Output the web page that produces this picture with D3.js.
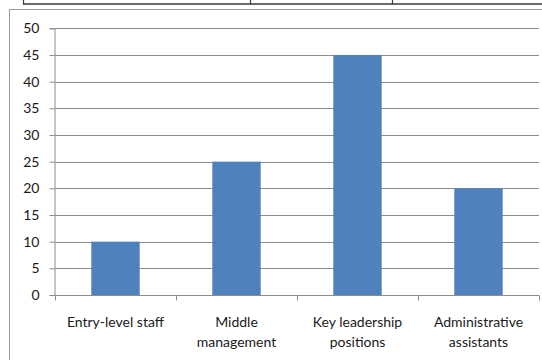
<!DOCTYPE html>
<html>
<head>
<meta charset="utf-8">
<script src="https://cdn.jsdelivr.net/npm/d3@7"></script>
<style>
  html, body { margin: 0; padding: 0; background: #fff; }
  svg { display: block; }
  text { font-family: Lato, "Open Sans", sans-serif; fill: #1a1a1a; }
</style>
</head>
<body>
<svg id="chart" width="542" height="360"></svg>
<script>
// Staff groups and their values
const categories = [
  ["Entry-level staff"],
  ["Middle", "management"],
  ["Key leadership", "positions"],
  ["Administrative", "assistants"]
];
const values = [10, 25, 45, 20];
const yTicks = [0, 5, 10, 15, 20, 25, 30, 35, 40, 45, 50];

const svg = d3.select("#chart");
const W = 542, H = 360;
const plot = { left: 55, right: 539, top: 28.3, bottom: 295 };

// Table border sitting above the chart
const table = svg.append("g").attr("stroke", "#3a3a3a");
table.append("line").attr("x1", 23).attr("x2", W).attr("y1", 4).attr("y2", 4).attr("stroke-width", 1.6);
[23.5, 250.5, 392.5].forEach(x =>
  table.append("line").attr("x1", x).attr("x2", x).attr("y1", 0).attr("y2", 4.5).attr("stroke-width", 1.2));

// Chart frame (runs off the right and bottom edges)
svg.append("rect")
  .attr("x", 9.5).attr("y", 9.5)
  .attr("width", W + 20).attr("height", H + 20)
  .attr("fill", "none").attr("stroke", "#9a9a9a").attr("stroke-width", 1);

const x = d3.scaleBand()
  .domain(categories.map((d, i) => i))
  .range([plot.left, plot.right])
  .paddingInner(0).paddingOuter(0);

const y = d3.scaleLinear().domain([0, 50]).range([plot.bottom, plot.top]);

// Horizontal gridlines
svg.append("g")
  .selectAll("line")
  .data(yTicks.filter(t => t > 0))
  .join("line")
  .attr("x1", plot.left).attr("x2", plot.right)
  .attr("y1", d => Math.round(y(d)) + 0.5).attr("y2", d => Math.round(y(d)) + 0.5)
  .attr("stroke", "#8c8c8c").attr("stroke-width", 1);

// Bars
const barW = x.bandwidth() * 0.4;
svg.append("g")
  .selectAll("rect")
  .data(values)
  .join("rect")
  .attr("x", (d, i) => x(i) + (x.bandwidth() - barW) / 2)
  .attr("y", d => y(d))
  .attr("width", barW)
  .attr("height", d => y(0) - y(d))
  .attr("fill", "#4f81bd");

// Y axis
const yAxis = svg.append("g")
  .attr("transform", `translate(${plot.left - 0.5},0)`)
  .call(d3.axisLeft(y).tickValues(yTicks).tickSize(5).tickPadding(10).tickFormat(d3.format("d")));
yAxis.selectAll("path, line").attr("stroke", "#8c8c8c");
yAxis.selectAll("text").attr("font-size", 14).attr("font-family", "Lato, sans-serif").attr("fill", "#1a1a1a");

// X axis
const xAxis = svg.append("g")
  .attr("transform", `translate(0,${Math.round(plot.bottom) + 0.5})`)
  .call(d3.axisBottom(x).tickSize(0).tickFormat(""));
xAxis.select("path").attr("stroke", "#8c8c8c").attr("d", `M${plot.left},0H${plot.right}`);

// Category tick marks at band edges
const edges = categories.map((d, i) => x(i)).concat([x(categories.length - 1) + x.bandwidth()]);
xAxis.selectAll("line.edge")
  .data(edges)
  .join("line")
  .attr("class", "edge")
  .attr("x1", d => Math.round(d) + 0.5).attr("x2", d => Math.round(d) + 0.5)
  .attr("y1", 0).attr("y2", 5)
  .attr("stroke", "#8c8c8c");

// Category labels
const labels = svg.append("g").attr("text-anchor", "middle").attr("font-size", 14);
categories.forEach((lines, i) => {
  const t = labels.append("text")
    .attr("x", x(i) + x.bandwidth() / 2)
    .attr("y", 327);
  lines.forEach((line, j) =>
    t.append("tspan").attr("x", x(i) + x.bandwidth() / 2).attr("dy", j === 0 ? 0 : 20).text(line));
});
</script>
</body>
</html>
